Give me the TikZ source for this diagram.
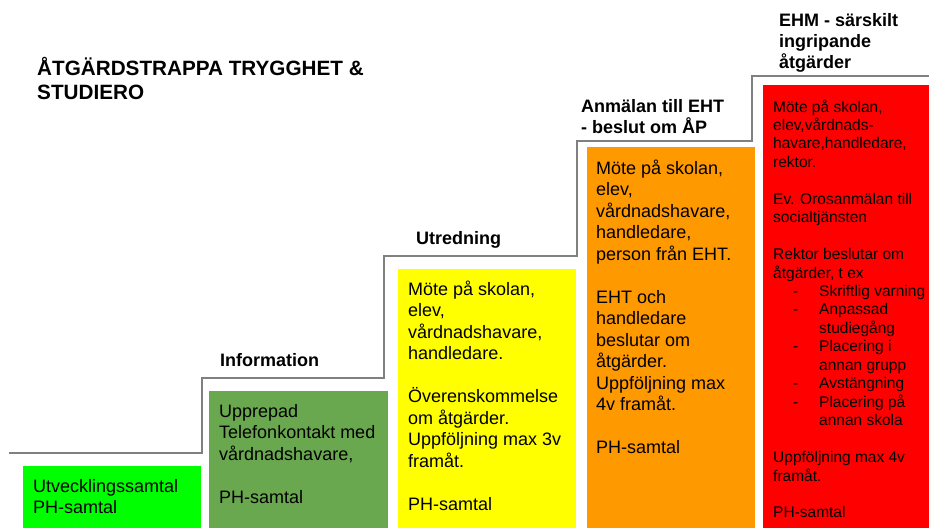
\documentclass[tikz,border=0pt]{standalone}
\usepackage{fontspec}
\setmainfont{Liberation Sans}
\definecolor{stairgray}{HTML}{808080}
\definecolor{cGreen}{HTML}{00FF00}
\definecolor{cDarkGreen}{HTML}{6AA84F}
\definecolor{cYellow}{HTML}{FFFF00}
\definecolor{cOrange}{HTML}{FF9900}
\definecolor{cRed}{HTML}{FF0000}
\newcommand\steptxt[2]{\parbox[t]{#1}{\raggedright #2}}
\newcommand\dashitem[1]{\hspace*{20pt}\makebox[26pt][l]{-}#1}
\newcommand\dashcont[1]{\hspace*{46pt}#1}
\begin{document}
\begin{tikzpicture}[x=1pt,y=-1pt,
  stairline/.style={draw=stairgray,line width=1.6pt},
  bodytext/.style={anchor=base west,inner sep=0pt,font=\fontsize{18}{21.5}\selectfont},
  redtext/.style={anchor=base west,inner sep=0pt,font=\fontsize{15.5}{18.45}\selectfont},
  labeltext/.style={anchor=base west,inner sep=0pt,font=\bfseries\fontsize{18}{21}\selectfont},
  titletext/.style={anchor=base west,inner sep=0pt,font=\bfseries\fontsize{20.7}{24}\selectfont}]
\useasboundingbox[fill=white] (0,0) rectangle (929,528);

% step boxes
\fill[cGreen] (23,466) rectangle (201,528);
\fill[cDarkGreen] (209,391) rectangle (388,528);
\fill[cYellow] (398,269) rectangle (576,528);
\fill[cOrange] (587,147) rectangle (755,528);
\fill[cRed] (763,85) rectangle (929,528);

% staircase line
\coordinate (s0) at (9,453);
\coordinate (s1) at (202,453);
\coordinate (s2) at (202,378);
\coordinate (s3) at (384,378);
\coordinate (s4) at (384,256);
\coordinate (s5) at (577,256);
\coordinate (s6) at (577,141);
\coordinate (s7) at (752,141);
\coordinate (s8) at (752,76);
\coordinate (s9) at (929,76);
\draw[stairline] (s0) -- (s1) -- (s2) -- (s3) -- (s4) -- (s5) -- (s6) -- (s7) -- (s8) -- (s9);

% title
\node[titletext] (title) at (37,75) {\steptxt{400pt}{ÅTGÄRDSTRAPPA TRYGGHET \&\\STUDIERO}};

% step labels
\node[labeltext] (lInfo) at (220,366) {\steptxt{170pt}{Information}};
\node[labeltext] (lUtr) at (416,244) {\steptxt{170pt}{Utredning}};
\node[labeltext] (lAnm) at (581,112) {\steptxt{170pt}{Anmälan till EHT\\- beslut om ÅP}};
\node[labeltext] (lEHM) at (779,26) {\steptxt{150pt}{EHM - särskilt\\ingripande\\åtgärder}};

% box texts
\node[bodytext] (tGreen) at (33,492) {\steptxt{170pt}{Utvecklingssamtal\\PH-samtal}};
\node[bodytext] (tDark) at (219,417) {\steptxt{170pt}{Upprepad\\Telefonkontakt med\\vårdnadshavare,\\[21.5pt]PH-samtal}};
\node[bodytext] (tYellow) at (408,295) {\steptxt{170pt}{Möte på skolan,\\elev,\\vårdnadshavare,\\handledare.\\[21.5pt]Överenskommelse\\om åtgärder.\\Uppföljning max 3v\\framåt.\\[21.5pt]PH-samtal}};
\node[bodytext] (tOrange) at (596,174) {\steptxt{170pt}{Möte på skolan,\\elev,\\vårdnadshavare,\\handledare,\\person från EHT.\\[21.5pt]EHT och\\handledare\\beslutar om\\åtgärder.\\Uppföljning max\\4v framåt.\\[21.5pt]PH-samtal}};
\node[redtext] (tRed) at (773,112) {\steptxt{170pt}{Möte på skolan,\\elev,vårdnads-\\havare,handledare,\\rektor.\\[18.45pt]Ev. Orosanmälan till\\socialtjänsten\\[18.45pt]Rektor beslutar om\\åtgärder, t ex\\\dashitem{Skriftlig varning}\\\dashitem{Anpassad}\\\dashcont{studiegång}\\\dashitem{Placering i}\\\dashcont{annan grupp}\\\dashitem{Avstängning}\\\dashitem{Placering på}\\\dashcont{annan skola}\\[18.45pt]Uppföljning max 4v\\framåt.\\[18.45pt]PH-samtal}};
\end{tikzpicture}
\end{document}
